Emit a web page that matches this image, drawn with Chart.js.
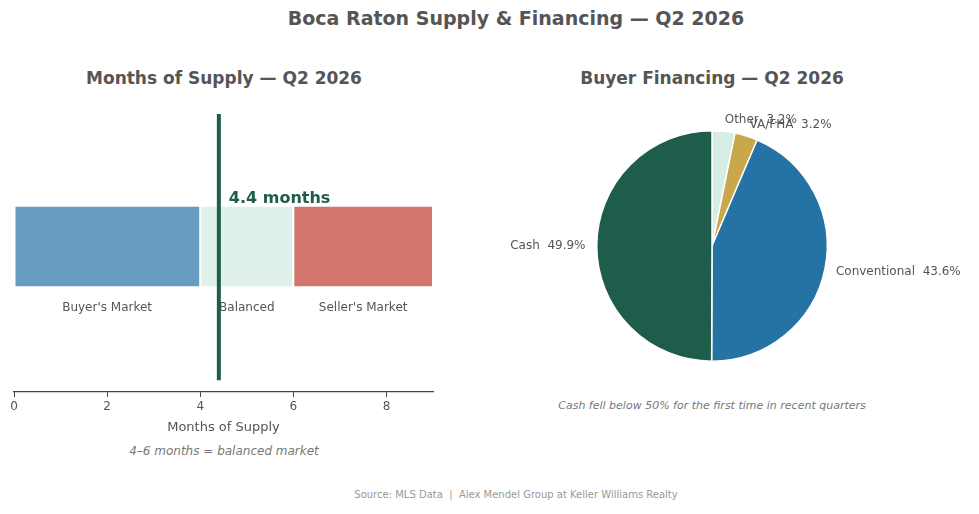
<!DOCTYPE html>
<html>
<head>
<meta charset="utf-8">
<script src="https://cdn.jsdelivr.net/npm/chart.js@4.4.1/dist/chart.umd.min.js"></script>
<style>
  body { margin: 0; background: #fff; font-family: "DejaVu Sans", sans-serif; }
  #wrap { position: relative; width: 979px; height: 514px; overflow: hidden; }
  .txt { position: absolute; white-space: pre; transform: translate(-50%, -50%); color: #555; }
  canvas { position: absolute; }
</style>
</head>
<body>
<div id="wrap">
  <div class="txt" style="left:516px; top:18px; font-size:19px; font-weight:bold;">Boca Raton Supply &amp; Financing — Q2 2026</div>
  <div class="txt" style="left:224px; top:78px; font-size:17px; font-weight:bold;">Months of Supply — Q2 2026</div>
  <div class="txt" style="left:712px; top:78px; font-size:17px; font-weight:bold;">Buyer Financing — Q2 2026</div>
  <div class="txt" style="left:224px; top:451px; font-size:12px; font-style:italic; color:#777;">4–6 months = balanced market</div>
  <div class="txt" style="left:712px; top:405px; font-size:11px; font-style:italic; color:#777;">Cash fell below 50% for the first time in recent quarters</div>
  <div class="txt" style="left:516px; top:494px; font-size:10px; color:#999;">Source: MLS Data  |  Alex Mendel Group at Keller Williams Realty</div>
  <div style="position:absolute; left:0; top:95px; width:450px; height:340px;"><canvas id="supplyChart"></canvas></div>
  <div style="position:absolute; left:482px; top:106px; width:497px; height:280px;"><canvas id="financeChart"></canvas></div>
</div>
<script>
/* ===============================
   Data
=============================== */

const zoneLabels = ["Buyer's Market", "Balanced", "Seller's Market"];
const zoneWidths = [4, 2, 3];
const zoneColors = ["#659cc0", "#dff1ea", "#d4756b"];
const currentSupply = 4.4;
const xTicks = [0, 2, 4, 6, 8];

const financeLabels = ["Other", "VA/FHA", "Conventional", "Cash"];
const financeShares = [3.2, 3.2, 43.6, 49.9];
const financeColors = ["#d5ede5", "#c8a84b", "#2573a5", "#1e5c4c"];

const darkGreen = "#1e5c4c";

/* ===============================
   Months of Supply
=============================== */

const supplyOverlay = {
    id: "supplyOverlay",
    afterDatasetsDraw(chart) {
        const ctx = chart.ctx;
        const x = chart.scales.x;
        const area = chart.chartArea;
        const bar = chart.getDatasetMeta(0).data[0];
        const barBottom = bar.y + bar.height / 2;

        ctx.save();
        ctx.font = "12px 'DejaVu Sans'";
        ctx.fillStyle = "#555";
        ctx.textAlign = "center";
        ctx.textBaseline = "middle";
        let start = 0;
        zoneWidths.forEach((w, i) => {
            const mid = x.getPixelForValue(start + w / 2);
            ctx.fillText(zoneLabels[i], mid, barBottom + 21);
            start += w;
        });

        const lx = x.getPixelForValue(currentSupply);
        const h = area.bottom - area.top;
        ctx.strokeStyle = darkGreen;
        ctx.lineWidth = 4;
        ctx.beginPath();
        ctx.moveTo(lx, area.top + h * 0.045);
        ctx.lineTo(lx, area.bottom - h * 0.04);
        ctx.stroke();

        ctx.font = "bold 16px 'DejaVu Sans'";
        ctx.fillStyle = darkGreen;
        ctx.textAlign = "left";
        ctx.textBaseline = "alphabetic";
        ctx.fillText(currentSupply + " months", lx + 10, bar.y - bar.height / 2 - 3);
        ctx.restore();
    }
};

const supplyCtx = document.getElementById("supplyChart");

new Chart(supplyCtx, {
    type: "bar",
    data: {
        labels: ["Supply"],
        datasets: zoneWidths.map((w, i) => ({
            label: zoneLabels[i],
            data: [w],
            backgroundColor: zoneColors[i],
            borderColor: "#ffffff",
            borderWidth: 1,
            borderSkipped: false,
            barPercentage: 1,
            categoryPercentage: 0.28
        }))
    },
    options: {
        indexAxis: "y",
        responsive: true,
        maintainAspectRatio: false,
        animation: false,
        layout: { padding: { left: 14, right: 17, top: 6, bottom: 0 } },
        plugins: {
            legend: { display: false },
            tooltip: { enabled: false }
        },
        scales: {
            x: {
                stacked: true,
                min: 0,
                max: 9,
                afterBuildTicks: (axis) => { axis.ticks = xTicks.map(v => ({ value: v })); },
                ticks: {
                    color: "#555",
                    font: { family: "DejaVu Sans", size: 12 },
                    padding: 3
                },
                grid: {
                    drawOnChartArea: false,
                    color: "#444",
                    tickLength: 5
                },
                border: { color: "#444", width: 1.2 },
                title: {
                    display: true,
                    text: "Months of Supply",
                    color: "#555",
                    font: { family: "DejaVu Sans", size: 13 },
                    padding: { top: 2, bottom: 0 }
                }
            },
            y: {
                stacked: true,
                display: false
            }
        }
    },
    plugins: [supplyOverlay]
});

/* ===============================
   Buyer Financing
=============================== */

const pieLabels = {
    id: "pieLabels",
    afterDatasetsDraw(chart) {
        const ctx = chart.ctx;
        ctx.save();
        ctx.font = "12px 'DejaVu Sans'";
        ctx.fillStyle = "#555";
        ctx.textBaseline = "middle";
        chart.getDatasetMeta(0).data.forEach((arc, i) => {
            const mid = (arc.startAngle + arc.endAngle) / 2;
            const r = 115 * 1.1;
            const px = arc.x + Math.cos(mid) * r;
            const py = arc.y + Math.sin(mid) * r;
            ctx.textAlign = Math.cos(mid) >= 0 ? "left" : "right";
            ctx.fillText(financeLabels[i] + "  " + financeShares[i].toFixed(1) + "%", px, py);
        });
        ctx.restore();
    }
};

const financeCtx = document.getElementById("financeChart");

new Chart(financeCtx, {
    type: "pie",
    data: {
        labels: financeLabels,
        datasets: [{
            data: financeShares,
            backgroundColor: financeColors,
            borderColor: "#ffffff",
            borderWidth: 1.5
        }]
    },
    options: {
        responsive: true,
        maintainAspectRatio: false,
        animation: false,
        layout: { padding: { left: 114, right: 151, top: 24, bottom: 24 } },
        plugins: {
            legend: { display: false },
            tooltip: { enabled: false }
        }
    },
    plugins: [pieLabels]
});
</script>
</body>
</html>
